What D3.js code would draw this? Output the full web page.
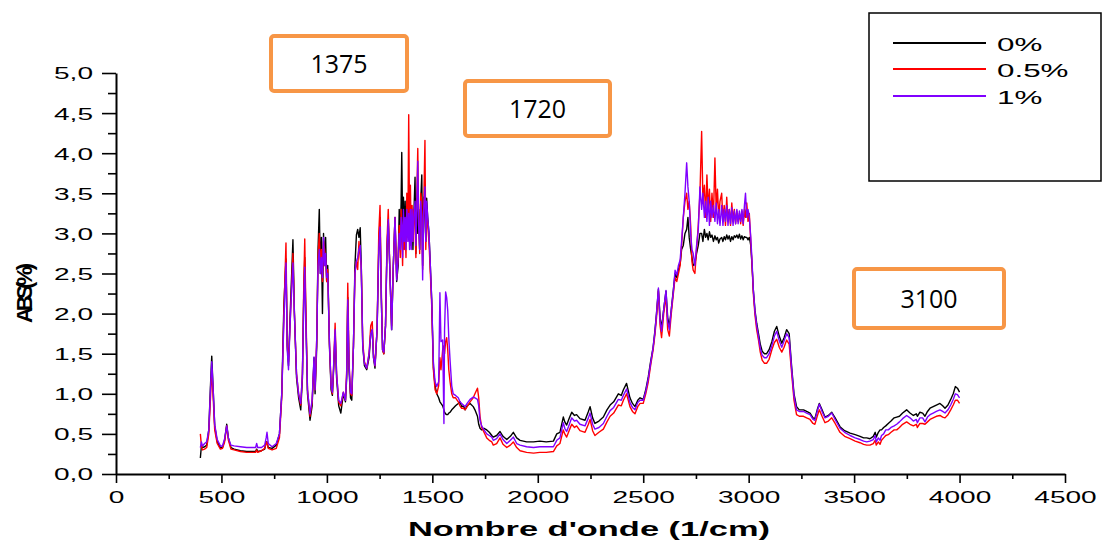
<!DOCTYPE html>
<html>
<head>
<meta charset="utf-8">
<script src="https://cdn.jsdelivr.net/npm/d3@7"></script>
<style>
  body { margin: 0; background: #fff; }
  svg { display: block; font-family: "Liberation Sans", Arial, sans-serif; }
</style>
</head>
<body>
<div id="chart"></div>
<script>
// Nombre d'onde (cm-1), partagé par les trois spectres
var wavenumber = [
  400, 405, 410, 420, 430, 440, 448, 454, 460, 468,
  480, 495, 505, 515, 525, 533, 545, 560, 590, 620,
  650, 662, 667, 672, 690, 705, 712, 716, 722, 740,
  760, 775, 786, 796, 806, 812, 818, 826, 839, 846,
  856, 866, 876, 884, 890, 895, 900, 908, 920, 930,
  939, 944, 952, 958, 964, 969, 974, 979, 984, 989,
  994, 999, 1004, 1012, 1020, 1026, 1032, 1039, 1046, 1056,
  1066, 1078, 1088, 1094, 1099, 1105, 1112, 1118, 1126, 1133,
  1140, 1146, 1152, 1158, 1163, 1170, 1178, 1189, 1200, 1208,
  1215, 1221, 1228, 1238, 1246, 1252, 1258, 1264, 1270, 1278,
  1285, 1291, 1298, 1307, 1315, 1323, 1331, 1338, 1343, 1348,
  1352, 1355, 1359, 1363, 1367, 1371, 1375, 1379, 1384, 1388,
  1392, 1396, 1400, 1404, 1408, 1412, 1418, 1422, 1426, 1431,
  1435, 1440, 1445, 1450, 1454, 1459, 1465, 1469, 1473, 1478,
  1484, 1489, 1497, 1505, 1513, 1521, 1530, 1536, 1541, 1549,
  1555, 1558, 1563, 1568, 1573, 1578, 1584, 1592, 1599, 1610,
  1623, 1631, 1639, 1647, 1655, 1665, 1679, 1694, 1702, 1714,
  1720, 1726, 1734, 1745, 1758, 1770, 1782, 1789, 1805, 1821,
  1835, 1853, 1870, 1884, 1900, 1916, 1947, 1980, 2010, 2040,
  2074, 2090, 2105, 2121, 2128, 2137, 2150, 2161, 2174, 2184,
  2200, 2224, 2240, 2248, 2260, 2271, 2290, 2311, 2328, 2343,
  2360, 2382, 2396, 2406, 2421, 2437, 2449, 2461, 2474, 2485,
  2500, 2512, 2524, 2535, 2547, 2556, 2563, 2572, 2580, 2587,
  2597, 2608, 2616, 2624, 2633, 2643, 2651, 2659, 2667, 2675,
  2682, 2690, 2698, 2706, 2712, 2718, 2725, 2731, 2737, 2745,
  2753, 2761, 2769, 2777, 2783, 2790, 2796, 2802, 2808, 2814,
  2820, 2826, 2833, 2840, 2846, 2852, 2858, 2864, 2872, 2878,
  2884, 2890, 2896, 2902, 2908, 2914, 2920, 2926, 2932, 2938,
  2944, 2950, 2956, 2962, 2968, 2974, 2980, 2985, 2991, 2997,
  3003, 3010, 3016, 3022, 3030, 3038, 3046, 3055, 3064, 3075,
  3085, 3097, 3110, 3122, 3133, 3145, 3157, 3168, 3180, 3192,
  3204, 3215, 3227, 3240, 3260, 3275, 3291, 3305, 3314, 3325,
  3335, 3348, 3362, 3378, 3394, 3410, 3433, 3455, 3481, 3505,
  3528, 3545, 3560, 3575, 3591, 3600, 3605, 3615, 3623, 3630,
  3640, 3650, 3662, 3675, 3690, 3702, 3715, 3730, 3749, 3765,
  3781, 3795, 3800, 3812, 3825, 3836, 3848, 3860, 3875, 3890,
  3907, 3920, 3931, 3945, 3958, 3970, 3980, 3990, 4000
];

// Absorbance 0%
var abs0 = [
  0.20, 0.35, 0.33, 0.34, 0.36, 0.55, 1.10, 1.47, 1.10, 0.60,
  0.40, 0.33, 0.33, 0.42, 0.62, 0.45, 0.33, 0.31, 0.29, 0.28,
  0.28, 0.28, 0.31, 0.28, 0.29, 0.31, 0.40, 0.40, 0.33, 0.32,
  0.36, 0.50, 1.00, 2.10, 2.68, 1.60, 1.35, 2.00, 2.92, 2.00,
  1.20, 0.95, 0.80, 1.20, 2.20, 2.70, 2.00, 1.00, 0.67, 0.85,
  1.45, 1.00, 1.60, 2.80, 3.30, 2.50, 2.95, 2.00, 3.00, 2.60,
  2.95, 2.40, 2.60, 1.60, 1.05, 0.98, 1.30, 1.75, 1.20, 0.85,
  0.76, 1.00, 0.90, 1.20, 2.20, 1.30, 0.95, 0.92, 1.60, 2.60,
  2.98, 3.05, 2.95, 3.07, 2.60, 1.60, 1.35, 1.30, 1.45, 1.75,
  1.80, 1.45, 1.32, 1.80, 2.80, 3.20, 2.20, 1.55, 1.50, 1.85,
  2.80, 3.15, 2.60, 1.80, 2.60, 3.20, 2.40, 2.60, 3.30, 2.90,
  3.40, 4.01, 3.10, 3.45, 2.90, 3.40, 3.00, 3.40, 3.10, 3.30,
  2.90, 3.35, 2.85, 3.30, 2.80, 3.20, 3.70, 2.75, 3.40, 3.00,
  3.30, 2.80, 3.40, 3.73, 2.60, 3.45, 3.20, 2.90, 3.44, 3.20,
  3.00, 2.70, 2.17, 1.33, 1.10, 1.00, 0.95, 0.90, 0.88, 0.85,
  0.80, 0.77, 0.75, 0.74, 0.74, 0.76, 0.77, 0.80, 0.82, 0.85,
  0.88, 0.90, 0.84, 0.85, 0.80, 0.85, 0.88, 0.84, 0.80, 0.72,
  0.62, 0.57, 0.55, 0.57, 0.55, 0.52, 0.48, 0.46, 0.48, 0.53,
  0.47, 0.43, 0.47, 0.52, 0.45, 0.42, 0.40, 0.40, 0.41, 0.40,
  0.41, 0.50, 0.52, 0.71, 0.65, 0.61, 0.70, 0.77, 0.73, 0.74,
  0.69, 0.67, 0.78, 0.84, 0.70, 0.63, 0.66, 0.71, 0.80, 0.86,
  0.90, 1.00, 0.98, 1.05, 1.13, 0.95, 0.88, 0.84, 0.92, 0.95,
  0.93, 1.05, 1.21, 1.40, 1.58, 1.80, 2.00, 2.30, 1.95, 1.82,
  2.05, 2.28, 1.95, 1.84, 2.05, 2.30, 2.50, 2.45, 2.55, 2.62,
  2.80, 2.85, 3.00, 3.05, 3.20, 2.95, 2.80, 2.70, 2.60, 2.62,
  2.75, 2.85, 3.00, 3.00, 2.90, 3.05, 2.95, 3.00, 2.92, 3.02,
  2.95, 2.98, 2.90, 2.97, 2.92, 2.95, 2.88, 2.93, 2.95, 2.90,
  2.96, 2.92, 2.98, 2.93, 2.97, 2.90, 2.96, 2.92, 2.97, 2.95,
  2.98, 2.94, 2.99, 2.93, 2.97, 2.92, 2.96, 2.95, 2.95, 2.92,
  2.95, 2.85, 2.60, 2.30, 2.04, 1.88, 1.76, 1.62, 1.53, 1.50,
  1.50, 1.55, 1.65, 1.78, 1.84, 1.72, 1.63, 1.70, 1.80, 1.75,
  1.33, 1.00, 0.84, 0.80, 0.80, 0.78, 0.76, 0.70, 0.69, 0.80,
  0.88, 0.80, 0.71, 0.73, 0.77, 0.70, 0.59, 0.54, 0.51, 0.49,
  0.47, 0.45, 0.45, 0.44, 0.47, 0.52, 0.46, 0.52, 0.55, 0.55,
  0.58, 0.60, 0.63, 0.66, 0.70, 0.71, 0.72, 0.76, 0.80, 0.76,
  0.73, 0.75, 0.72, 0.77, 0.76, 0.72, 0.78, 0.82, 0.84, 0.86,
  0.88, 0.85, 0.82, 0.86, 0.93, 1.00, 1.09, 1.07, 1.02
];

// Absorbance 0.5%
var abs05 = [
  0.50, 0.35, 0.30, 0.31, 0.33, 0.50, 0.95, 1.30, 1.00, 0.55,
  0.38, 0.31, 0.32, 0.40, 0.60, 0.42, 0.31, 0.30, 0.28, 0.27,
  0.27, 0.27, 0.30, 0.27, 0.29, 0.32, 0.38, 0.40, 0.32, 0.30,
  0.32, 0.45, 0.95, 2.00, 2.88, 1.60, 1.40, 1.90, 2.75, 2.00,
  1.25, 1.00, 0.86, 1.25, 2.30, 2.93, 2.10, 1.05, 0.72, 0.90,
  1.40, 1.05, 1.70, 2.70, 3.00, 2.60, 2.80, 2.40, 2.90, 2.80,
  2.70, 2.40, 2.55, 1.65, 1.10, 1.00, 1.35, 1.88, 1.25, 0.90,
  0.85, 1.02, 0.92, 1.30, 2.38, 1.40, 1.00, 0.98, 1.60, 2.50,
  2.65, 2.55, 2.90, 2.70, 2.60, 1.65, 1.40, 1.32, 1.50, 1.85,
  1.90, 1.50, 1.35, 1.80, 3.00, 3.35, 2.30, 1.55, 1.50, 1.85,
  2.90, 3.30, 2.60, 1.85, 2.60, 3.20, 2.45, 2.70, 3.10, 2.70,
  3.30, 3.00, 2.60, 3.20, 2.80, 3.10, 2.70, 3.50, 3.00, 4.48,
  3.10, 3.60, 2.90, 3.35, 2.90, 3.30, 3.10, 2.70, 3.40, 4.06,
  3.20, 2.75, 3.50, 3.40, 2.55, 3.30, 4.16, 2.80, 3.30, 3.10,
  2.90, 2.60, 2.10, 1.30, 1.05, 1.00, 1.10, 1.45, 1.30, 1.55,
  1.60, 1.50, 1.65, 1.70, 1.55, 1.30, 1.15, 1.00, 0.95, 0.95,
  0.90, 0.85, 0.82, 0.82, 0.80, 0.84, 0.90, 0.95, 1.00, 1.07,
  0.95, 0.72, 0.58, 0.52, 0.45, 0.42, 0.40, 0.36, 0.38, 0.45,
  0.37, 0.33, 0.36, 0.40, 0.33, 0.29, 0.27, 0.26, 0.27, 0.27,
  0.28, 0.35, 0.38, 0.55, 0.50, 0.46, 0.55, 0.62, 0.58, 0.60,
  0.54, 0.52, 0.62, 0.68, 0.54, 0.48, 0.52, 0.56, 0.65, 0.72,
  0.76, 0.86, 0.85, 0.92, 1.00, 0.84, 0.78, 0.75, 0.84, 0.88,
  0.88, 1.00, 1.15, 1.35, 1.55, 1.75, 1.95, 2.28, 1.85, 1.70,
  2.00, 2.22, 1.80, 1.72, 2.00, 2.25, 2.45, 2.40, 2.50, 2.60,
  2.85, 3.20, 3.40, 3.50, 3.30, 3.40, 3.10, 2.65, 2.54, 2.50,
  2.80, 3.10, 3.50, 4.27, 3.40, 3.60, 3.20, 3.73, 3.30, 3.55,
  3.15, 3.50, 3.20, 3.94, 3.30, 3.55, 3.20, 3.40, 3.50, 3.15,
  3.35, 3.10, 3.45, 3.15, 3.30, 3.10, 3.38, 3.15, 3.30, 3.12,
  3.28, 3.15, 3.25, 3.12, 3.28, 3.10, 3.30, 3.20, 3.38, 3.15,
  3.25, 2.90, 2.60, 2.25, 1.98, 1.80, 1.68, 1.52, 1.42, 1.38,
  1.38, 1.43, 1.55, 1.64, 1.68, 1.58, 1.52, 1.58, 1.67, 1.62,
  1.25, 0.92, 0.74, 0.72, 0.72, 0.70, 0.68, 0.63, 0.62, 0.72,
  0.80, 0.72, 0.64, 0.66, 0.70, 0.63, 0.52, 0.47, 0.44, 0.41,
  0.39, 0.37, 0.36, 0.36, 0.38, 0.42, 0.36, 0.40, 0.37, 0.42,
  0.45, 0.48, 0.49, 0.52, 0.55, 0.55, 0.58, 0.62, 0.65, 0.62,
  0.60, 0.62, 0.58, 0.63, 0.63, 0.62, 0.65, 0.68, 0.70, 0.72,
  0.73, 0.71, 0.70, 0.74, 0.80, 0.86, 0.92, 0.92, 0.88
];

// Absorbance 1%
var abs1 = [
  0.33, 0.40, 0.35, 0.38, 0.40, 0.55, 1.05, 1.40, 1.10, 0.62,
  0.43, 0.35, 0.35, 0.44, 0.60, 0.45, 0.36, 0.35, 0.34, 0.33,
  0.33, 0.33, 0.38, 0.33, 0.33, 0.36, 0.45, 0.52, 0.38, 0.34,
  0.38, 0.50, 1.00, 1.90, 2.63, 1.55, 1.30, 1.90, 2.63, 2.00,
  1.25, 1.00, 0.88, 1.25, 2.10, 2.58, 1.90, 1.05, 0.75, 0.92,
  1.46, 1.05, 1.70, 2.60, 2.80, 2.50, 2.70, 2.45, 2.95, 2.60,
  2.75, 2.45, 2.50, 1.65, 1.10, 1.02, 1.35, 1.80, 1.25, 0.92,
  0.88, 1.02, 0.92, 1.25, 2.17, 1.35, 1.02, 1.00, 1.60, 2.50,
  2.65, 2.70, 2.80, 2.85, 2.55, 1.60, 1.38, 1.32, 1.50, 1.75,
  1.80, 1.45, 1.35, 1.80, 2.80, 3.08, 2.20, 1.55, 1.52, 1.85,
  2.80, 3.17, 2.60, 1.80, 2.60, 3.20, 2.42, 2.70, 3.00, 2.80,
  3.20, 3.10, 2.70, 3.30, 2.90, 3.20, 2.80, 3.30, 2.90, 3.25,
  2.80, 3.30, 2.80, 3.30, 2.90, 3.20, 3.40, 2.85, 3.30, 3.90,
  3.10, 2.80, 3.40, 3.20, 2.42, 3.30, 3.58, 2.90, 3.40, 3.20,
  3.00, 2.70, 2.17, 1.40, 1.15, 1.09, 1.15, 2.26, 1.65, 1.67,
  0.63, 1.80, 2.27, 2.20, 2.04, 1.70, 1.42, 1.10, 1.00, 0.98,
  0.95, 0.90, 0.88, 0.86, 0.84, 0.88, 0.93, 0.96, 0.95, 0.93,
  0.85, 0.67, 0.60, 0.55, 0.50, 0.48, 0.46, 0.42, 0.44, 0.50,
  0.43, 0.38, 0.42, 0.46, 0.38, 0.36, 0.34, 0.33, 0.34, 0.34,
  0.34, 0.42, 0.45, 0.64, 0.57, 0.53, 0.62, 0.70, 0.66, 0.67,
  0.62, 0.60, 0.70, 0.76, 0.62, 0.56, 0.58, 0.63, 0.72, 0.79,
  0.83, 0.93, 0.92, 0.98, 1.06, 0.89, 0.83, 0.80, 0.89, 0.92,
  0.92, 1.03, 1.19, 1.38, 1.58, 1.78, 2.00, 2.32, 1.90, 1.78,
  2.05, 2.29, 1.90, 1.80, 2.05, 2.28, 2.54, 2.48, 2.60, 2.67,
  2.90, 3.20, 3.50, 3.88, 3.58, 3.40, 3.00, 2.80, 2.75, 2.60,
  2.85, 3.04, 3.58, 3.30, 3.50, 3.20, 3.40, 3.15, 3.45, 3.10,
  3.40, 3.20, 3.35, 3.15, 3.38, 3.12, 3.30, 3.10, 3.35, 3.10,
  3.30, 3.15, 3.35, 3.10, 3.30, 3.12, 3.32, 3.10, 3.28, 3.12,
  3.30, 3.12, 3.28, 3.15, 3.30, 3.12, 3.35, 3.50, 3.20, 3.30,
  3.20, 2.95, 2.65, 2.30, 2.02, 1.85, 1.72, 1.57, 1.48, 1.45,
  1.45, 1.50, 1.60, 1.72, 1.78, 1.66, 1.58, 1.66, 1.75, 1.70,
  1.30, 0.97, 0.80, 0.78, 0.78, 0.76, 0.74, 0.68, 0.67, 0.78,
  0.87, 0.78, 0.70, 0.72, 0.76, 0.68, 0.57, 0.52, 0.48, 0.45,
  0.43, 0.41, 0.40, 0.41, 0.43, 0.48, 0.40, 0.45, 0.42, 0.48,
  0.50, 0.55, 0.55, 0.58, 0.60, 0.62, 0.65, 0.69, 0.73, 0.70,
  0.66, 0.68, 0.64, 0.70, 0.70, 0.65, 0.71, 0.74, 0.76, 0.78,
  0.80, 0.78, 0.76, 0.80, 0.86, 0.93, 1.00, 0.99, 0.95
];

var seriesNames = ["0%", "0.5%", "1%"];
var seriesColors = ["#000000", "#ff0000", "#8000ff"];
var xTicks = [0, 500, 1000, 1500, 2000, 2500, 3000, 3500, 4000, 4500];
var xMinorTicks = [250, 750, 1250, 1750, 2250, 2750, 3250, 3750, 4250];
var yTicks = [0, 0.5, 1, 1.5, 2, 2.5, 3, 3.5, 4, 4.5, 5];
var yMinorTicks = [0.25, 0.75, 1.25, 1.75, 2.25, 2.75, 3.25, 3.75, 4.25, 4.75];
var peakLabels = ["1375", "1720", "3100"];

var width = 1102, height = 544;
var stretch = 1.65; // le graphique d'origine est étiré horizontalement

var svg = d3.select("#chart").append("svg")
    .attr("width", width)
    .attr("height", height);

svg.append("rect").attr("width", width).attr("height", height).attr("fill", "#fff");

var x = d3.scaleLinear().domain([0, 4500]).range([116, 1065]);
var y = d3.scaleLinear().domain([0, 5]).range([474, 73]);

// Graduations mineures
svg.append("g")
    .attr("transform", "translate(0," + y(0) + ")")
    .call(d3.axisBottom(x).tickValues(xMinorTicks).tickSize(5).tickFormat(""))
    .call(g => g.select(".domain").remove());
svg.append("g")
    .attr("transform", "translate(" + x(0) + ",0)")
    .call(d3.axisLeft(y).tickValues(yMinorTicks).tickSize(8).tickFormat(""))
    .call(g => g.select(".domain").remove());

// Axe X
var xAxis = svg.append("g")
    .attr("class", "x-axis")
    .attr("transform", "translate(0," + y(0) + ")")
    .call(d3.axisBottom(x).tickValues(xTicks).tickSize(9).tickSizeOuter(0).tickFormat(d3.format("d")));
xAxis.selectAll("text")
    .attr("y", 0).attr("dy", 0)
    .attr("transform", "translate(0,29) scale(" + stretch + ",1)")
    .attr("font-size", 17).attr("fill", "#000");

// Axe Y
var yAxis = svg.append("g")
    .attr("class", "y-axis")
    .attr("transform", "translate(" + x(0) + ",0)")
    .call(d3.axisLeft(y).tickValues(yTicks).tickSize(14).tickSizeOuter(0)
        .tickFormat(d => d.toFixed(1).replace(".", ",")));
yAxis.selectAll("text")
    .attr("x", 0).attr("dy", "0.35em")
    .attr("transform", "translate(-23,0) scale(" + stretch + ",1)")
    .attr("font-size", 17).attr("fill", "#000");

svg.selectAll(".domain").attr("stroke", "#000").attr("stroke-width", 2);
svg.selectAll(".tick line").attr("stroke", "#000").attr("stroke-width", 1.6);

// Titres des axes
svg.append("text")
    .attr("x", 589).attr("y", 536)
    .attr("text-anchor", "middle")
    .attr("font-weight", "bold").attr("font-size", 21)
    .attr("textLength", 362).attr("lengthAdjust", "spacingAndGlyphs")
    .text("Nombre d'onde (1/cm)");

svg.append("text")
    .attr("transform", "translate(32,293) rotate(-90)")
    .attr("text-anchor", "middle")
    .attr("font-weight", "bold").attr("font-size", 22)
    .attr("textLength", 60).attr("lengthAdjust", "spacing")
    .text("ABS(%)");

// Spectres
var seriesValues = [abs0, abs05, abs1];
var idx = d3.range(wavenumber.length);

seriesValues.forEach(function(vals, k) {
    var line = d3.line()
        .x(i => x(wavenumber[i]))
        .y(i => y(vals[i]));
    svg.append("path")
        .datum(idx)
        .attr("fill", "none")
        .attr("stroke", seriesColors[k])
        .attr("stroke-width", 1.4)
        .attr("stroke-linejoin", "round")
        .attr("d", line);
});

// Légende
var legend = svg.append("g");
legend.append("rect")
    .attr("x", 869).attr("y", 13)
    .attr("width", 232).attr("height", 168)
    .attr("fill", "none").attr("stroke", "#000").attr("stroke-width", 1.5);

seriesNames.forEach(function(name, k) {
    var ly = [43, 69, 96][k];
    legend.append("line")
        .attr("x1", 893).attr("x2", 986)
        .attr("y1", ly).attr("y2", ly)
        .style("stroke", seriesColors[k]).style("stroke-width", 2);
    legend.append("text")
        .attr("transform", "translate(997," + (ly + 8) + ") scale(" + stretch + ",1)")
        .attr("font-size", 19)
        .text(name);
});

// Encadrés des pics
var boxes = [
    {x: 271, y: 36, w: 136, h: 55},
    {x: 465, y: 81, w: 145, h: 55},
    {x: 854, y: 269, w: 150, h: 59}
];
peakLabels.forEach(function(label, k) {
    var b = boxes[k];
    svg.append("rect")
        .attr("x", b.x).attr("y", b.y)
        .attr("width", b.w).attr("height", b.h)
        .attr("rx", 3)
        .attr("fill", "#fff")
        .attr("stroke", "#f79646").attr("stroke-width", 4);
    svg.append("text")
        .attr("x", b.x + b.w / 2).attr("y", b.y + b.h / 2 + 9)
        .attr("text-anchor", "middle")
        .attr("font-family", "'Open Sans', sans-serif")
        .attr("font-size", 25)
        .text(label);
});
</script>
</body>
</html>
